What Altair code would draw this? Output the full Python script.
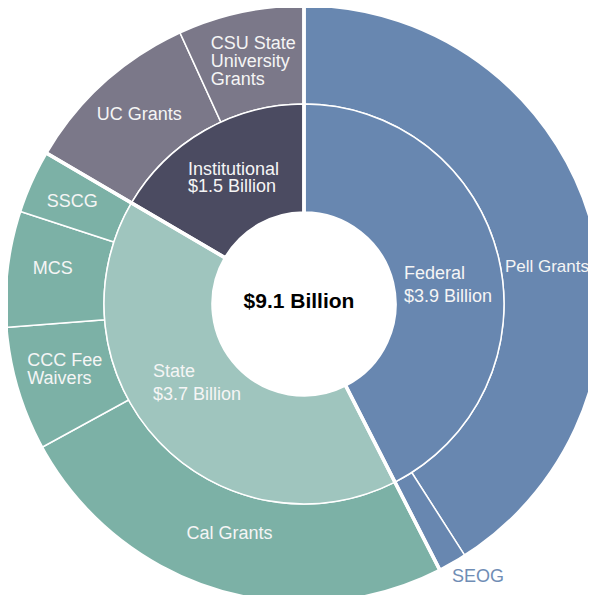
import altair as alt
import pandas as pd

# ---- data ----
groups = ["Federal", "Federal", "State", "State", "State", "State", "Institutional", "Institutional"]
programs = ["Pell Grants", "SEOG", "Cal Grants", "CCC Fee Waivers", "MCS", "SSCG", "UC Grants",
            "CSU State University Grants"]
program_labels = ["Pell Grants", "SEOG", "Cal Grants", "CCC Fee\nWaivers", "MCS", "SSCG", "UC Grants",
                  "CSU State\nUniversity\nGrants"]
amounts = [3.72, 0.14, 2.23, 0.61, 0.57, 0.31, 0.885, 0.62]  # $ billions
group_names = ["Federal", "State", "Institutional"]
group_totals = ["$3.9 Billion", "$3.7 Billion", "$1.5 Billion"]
total_label = "$9.1 Billion"

# ---- styles ----
program_colors = ["#6887b0", "#6887b0", "#7cb1a6", "#7cb1a6", "#7cb1a6", "#7cb1a6", "#7b7889", "#7b7889"]
group_colors = ["#6887b0", "#9fc5be", "#4b4b61"]
FONT = "Liberation Sans"
R_HOLE, R_MID, R_OUT = 91, 200, 299

leaf = pd.DataFrame({"group": groups, "program": programs, "label": program_labels,
                     "amount": amounts, "idx": list(range(len(programs)))})
grp = pd.DataFrame({
    "group": group_names,
    "amount": [sum(a for g, a in zip(groups, amounts) if g == n) for n in group_names],
    "gidx": list(range(len(group_names))),
    "label": [f"{n}\n{t}" for n, t in zip(group_names, group_totals)],
})

outer = alt.Chart(leaf).mark_arc(innerRadius=R_MID, outerRadius=R_OUT, stroke="white", strokeWidth=1.5).encode(
    theta=alt.Theta("amount:Q", stack=True),
    order=alt.Order("idx:Q"),
    color=alt.Color("program:N", scale=alt.Scale(domain=programs, range=program_colors), legend=None),
)

inner = alt.Chart(grp).mark_arc(innerRadius=R_HOLE, outerRadius=R_MID, stroke="white", strokeWidth=1.5).encode(
    theta=alt.Theta("amount:Q", stack=True),
    order=alt.Order("gidx:Q"),
    color=alt.Color("group:N", scale=alt.Scale(domain=group_names, range=group_colors), legend=None),
)

outline = alt.Chart(grp).mark_arc(innerRadius=R_HOLE, outerRadius=R_OUT, filled=False,
                                  stroke="white", strokeWidth=3.5).encode(
    theta=alt.Theta("amount:Q", stack=True),
    order=alt.Order("gidx:Q"),
)


def label_layer(df, key, idx_field, name, radius, dx, dy, align="center", lh=18, color="#f5f5f5", size=18):
    return (
        alt.Chart(df)
        .transform_window(cum="sum(amount)", sort=[alt.SortField(idx_field)], frame=[None, 0])
        .transform_calculate(mid="datum.cum - datum.amount / 2")
        .transform_filter(alt.datum[key] == name)
        .mark_text(radius=radius, dx=dx, dy=dy, align=align, baseline="middle", lineBreak="\n",
                   lineHeight=lh, fontSize=size, font=FONT, color=color)
        .encode(theta=alt.Theta("mid:Q", stack=False), text="label:N")
    )


labels = [
    label_layer(leaf, "program", "idx", "Pell Grants", 250, 3, 33, size=17),
    label_layer(leaf, "program", "idx", "SEOG", 324, 13, -8, color="#6f8db5"),
    label_layer(leaf, "program", "idx", "Cal Grants", 241, -3.5, 0),
    label_layer(leaf, "program", "idx", "CCC Fee Waivers", 247, -40, -14, align="left"),
    label_layer(leaf, "program", "idx", "MCS", 253, 0, -5),
    label_layer(leaf, "program", "idx", "SSCG", 253, -1, 2),
    label_layer(leaf, "program", "idx", "UC Grants", 251, 3.5, -3),
    label_layer(leaf, "program", "idx", "CSU State University Grants", 250, -40, -16, align="left"),
    label_layer(grp, "group", "gidx", "Federal", 145, -41, 4, align="left", lh=23),
    label_layer(grp, "group", "gidx", "State", 145, -45.5, -31.5, align="left", lh=23),
    label_layer(grp, "group", "gidx", "Institutional", 145, -44, -8.5, align="left", lh=17),
]

center_text = alt.Chart(pd.DataFrame({"t": [total_label]})).mark_text(
    fontSize=21, fontWeight="bold", font=FONT, color="black", dx=-5, dy=-2.5, baseline="middle"
).encode(text="t:N")

chart = (
    alt.layer(outer, inner, outline, *labels, center_text)
    .resolve_scale(color="independent")
    .properties(width=568, height=582,
                padding={"left": 12, "top": 5, "right": 0, "bottom": 0},
                autosize=alt.AutoSizeParams(type="none"))
    .configure_view(stroke=None)
)

chart.save("out.html", embed_options={"renderer": "svg", "actions": False})
